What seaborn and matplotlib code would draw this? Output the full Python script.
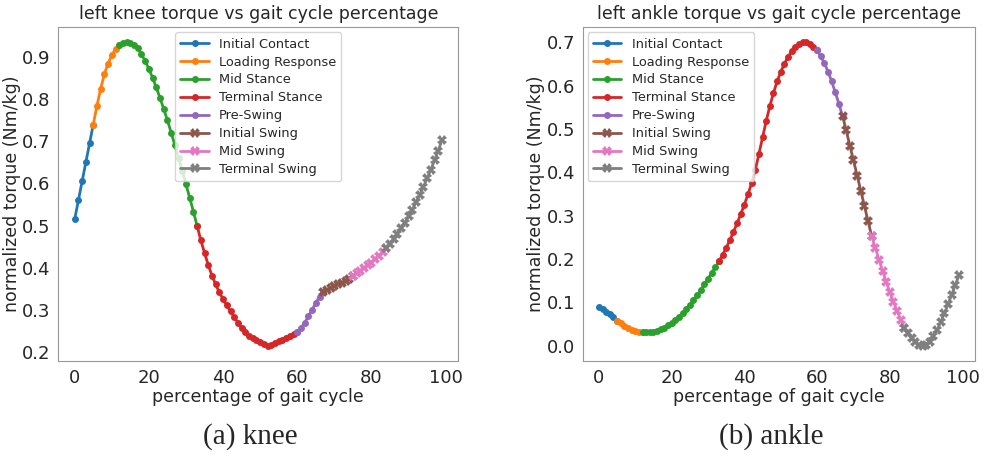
import matplotlib
matplotlib.use('Agg')
import matplotlib.pyplot as plt
import numpy as np
import pandas as pd
import seaborn as sns

sns.set_style('white')
plt.rcParams['font.family'] = ['DejaVu Sans']

# gait phases, first index of each phase (last phase ends at 99)
phases = ['Initial Contact', 'Loading Response', 'Mid Stance', 'Terminal Stance',
          'Pre-Swing', 'Initial Swing', 'Mid Swing', 'Terminal Swing']
phase_start = [0, 5, 12, 33, 60, 67, 75, 84, 99]
phase_marker = ['o', 'o', 'o', 'o', 'o', 'X', 'X', 'X']

pct = list(range(100))

knee = [0.515, 0.560, 0.605, 0.650, 0.695, 0.740, 0.785, 0.825, 0.860, 0.885,
        0.905, 0.920, 0.928, 0.933, 0.935, 0.934, 0.930, 0.921, 0.907, 0.891,
        0.872, 0.851, 0.828, 0.803, 0.777, 0.750, 0.721, 0.691, 0.661, 0.630,
        0.598, 0.566, 0.533, 0.499, 0.465, 0.435, 0.406, 0.381, 0.360, 0.341,
        0.325, 0.310, 0.296, 0.282, 0.269, 0.257, 0.246, 0.238, 0.233, 0.229,
        0.224, 0.218, 0.214, 0.217, 0.221, 0.225, 0.229, 0.233, 0.237, 0.242,
        0.248, 0.257, 0.269, 0.284, 0.300, 0.316, 0.331, 0.343, 0.347, 0.352,
        0.356, 0.360, 0.364, 0.369, 0.374, 0.380, 0.386, 0.392, 0.398, 0.405,
        0.412, 0.420, 0.428, 0.437, 0.447, 0.457, 0.468, 0.480, 0.493, 0.507,
        0.522, 0.538, 0.555, 0.573, 0.592, 0.612, 0.633, 0.655, 0.678, 0.703]

ankle = [0.090, 0.085, 0.079, 0.073, 0.066, 0.058, 0.052, 0.046, 0.041, 0.037,
         0.034, 0.032, 0.031, 0.031, 0.031, 0.033, 0.035, 0.038, 0.042, 0.047,
         0.053, 0.060, 0.067, 0.075, 0.084, 0.094, 0.105, 0.117, 0.129, 0.142,
         0.155, 0.168, 0.181, 0.195, 0.210, 0.226, 0.244, 0.263, 0.283, 0.304,
         0.326, 0.350, 0.376, 0.406, 0.443, 0.481, 0.519, 0.553, 0.584, 0.610,
         0.632, 0.651, 0.667, 0.680, 0.690, 0.696, 0.700, 0.700, 0.697, 0.690,
         0.682, 0.668, 0.652, 0.633, 0.610, 0.585, 0.558, 0.530, 0.497, 0.462,
         0.428, 0.393, 0.358, 0.323, 0.288, 0.253, 0.226, 0.199, 0.173, 0.148,
         0.124, 0.101, 0.080, 0.060, 0.041, 0.029, 0.018, 0.009, 0.002, 0.000,
         0.003, 0.010, 0.022, 0.037, 0.055, 0.075, 0.096, 0.118, 0.140, 0.163]


def long_table(values):
    rows = []
    for i, name in enumerate(phases):
        a, b = phase_start[i], phase_start[i + 1]
        for k in range(a, b + 1):
            rows.append({'pct': pct[k], 'torque': values[k], 'phase': name})
    return pd.DataFrame(rows)


palette = dict(zip(phases, sns.color_palette('tab10', 8)))
markers = dict(zip(phases, phase_marker))

fig = plt.figure(figsize=(9.86, 4.59), dpi=100)
ax1 = fig.add_axes([0.059, 0.2135, 0.406, 0.727])
ax2 = fig.add_axes([0.591, 0.2135, 0.398, 0.727])

panels = [(ax1, knee, 'left knee torque vs gait cycle percentage', 'upper center', '(a) knee'),
          (ax2, ankle, 'left ankle torque vs gait cycle percentage', 'upper left', '(b) ankle')]

for ax, vals, title, loc, caption in panels:
    df = long_table(vals)
    sns.lineplot(data=df, x='pct', y='torque', hue='phase', style='phase',
                 palette=palette, markers=markers, dashes=False, sort=False,
                 linewidth=2, markersize=5, markeredgewidth=0, ax=ax)
    # swing phase crosses are drawn a bit larger
    for ln in ax.lines:
        if ln.get_marker() == 'X':
            ln.set_markersize(6.5)
    ax.set_title(title, fontsize=12.5)
    ax.set_xlabel('percentage of gait cycle', fontsize=12.5, labelpad=1)
    ax.set_ylabel('normalized torque (Nm/kg)', fontsize=12.5, labelpad=1)
    ax.tick_params(labelsize=13, length=3.5, color='0.6', pad=2)
    ax.set_xticks([0, 20, 40, 60, 80, 100])
    for s in ax.spines.values():
        s.set_color('0.6')
    leg = ax.legend(loc=loc, fontsize=9.3, handlelength=2.2, labelspacing=0.38,
                    borderaxespad=0.4, title=None)
    for h in leg.legend_handles:
        if h.get_marker() == 'X':
            h.set_markersize(6.5)
    ax.margins(x=0.045, y=0.05)
    pos = ax.get_position()
    fig.text(pos.x0 + pos.width * 0.48, 0.048, caption, ha='center', va='center',
             fontsize=21, family='Liberation Serif')

fig.savefig('out.png', dpi=100)
